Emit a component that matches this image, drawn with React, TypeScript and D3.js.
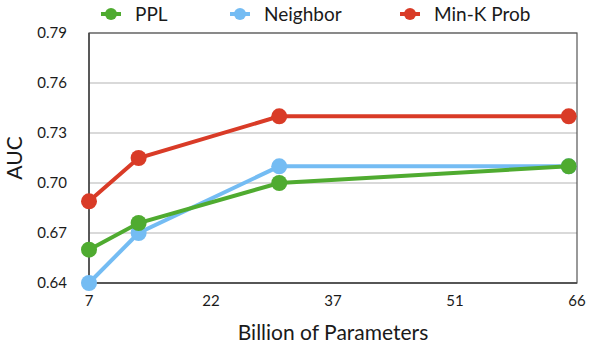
import React from 'react'
import * as d3 from 'd3'

const params = [7, 13, 30, 65]
const ppl = [0.66, 0.676, 0.70, 0.71]
const neighbor = [0.64, 0.67, 0.71, 0.71]
const minK = [0.689, 0.715, 0.74, 0.74]
const seriesNames = ['PPL', 'Neighbor', 'Min-K Prob']
const yTicks = [0.64, 0.67, 0.70, 0.73, 0.76, 0.79]
const xTickLabels = ['7', '22', '37', '51', '66']

const colors = ['#4fab30', '#74bcf3', '#d93b27']
const font = 'Lato, "Noto Sans", sans-serif'

export default function App () {
  const width = 592
  const height = 348
  const left = 89
  const right = 577
  const top = 33
  const bottom = 283

  const xScale = d3.scaleLinear().domain([7, 66]).range([left, right])
  const yScale = d3.scaleLinear().domain([0.64, 0.79]).range([bottom, top])
  const xTicks = d3.range(xTickLabels.length).map(i => 7 + i * (66 - 7) / (xTickLabels.length - 1))

  const series = [ppl, neighbor, minK]
  // neighbor sits under ppl, min-k on top
  const drawOrder = [1, 0, 2]
  const line = d3.line<number>()
    .x((d, i) => xScale(params[i]))
    .y(d => yScale(d))

  const legendX = [101, 230, 400]

  return <svg width={width} height={height} style={{ position: 'absolute', left: 0, top: 0, background: '#fff' }} fontFamily={font}>
    {/* grid */}
    {yTicks.map((v, i) => <line key={i} x1={left} x2={right} y1={yScale(v)} y2={yScale(v)} stroke='#b3b3b3' strokeWidth={1} />)}
    <rect x={left} y={top} width={right - left} height={bottom - top} fill='none' stroke='#555' strokeWidth={1.2} />
    <line x1={left} x2={right} y1={bottom} y2={bottom} stroke='#444' strokeWidth={1.5} />
    <line x1={left} x2={left} y1={top} y2={bottom} stroke='#444' strokeWidth={1.5} />

    {/* y ticks */}
    {yTicks.map((v, i) => <text key={i} x={67} y={yScale(v)} dy='0.35em' textAnchor='end' fontSize={15} fill='#1a1a1a'>{v.toFixed(2)}</text>)}
    {/* x ticks */}
    {xTicks.map((v, i) => <text key={i} x={xScale(v)} y={306} textAnchor='middle' fontSize={15} fill='#1a1a1a'>{xTickLabels[i]}</text>)}

    <text transform={`translate(22,${(top + bottom) / 2}) rotate(-90)`} textAnchor='middle' fontSize={21} fill='#1a1a1a'>AUC</text>
    <text x={333} y={340} textAnchor='middle' fontSize={21} fill='#1a1a1a'>Billion of Parameters</text>

    {/* series */}
    {drawOrder.map(k => <g key={k}>
      <path d={line(series[k]) || ''} fill='none' stroke={colors[k]} strokeWidth={4} />
      {series[k].map((v, i) => <circle key={i} cx={xScale(params[i])} cy={yScale(v)} r={8} fill={colors[k]} />)}
    </g>)}

    {/* legend */}
    {seriesNames.map((n, k) => <g key={k} transform={`translate(${legendX[k]},14)`}>
      <line x1={0} x2={20} y1={0} y2={0} stroke={colors[k]} strokeWidth={4} />
      <circle cx={10} cy={0} r={6} fill={colors[k]} />
      <text x={34} y={0} dy='0.35em' fontSize={19} fill='#1a1a1a'>{n}</text>
    </g>)}
  </svg>
}
